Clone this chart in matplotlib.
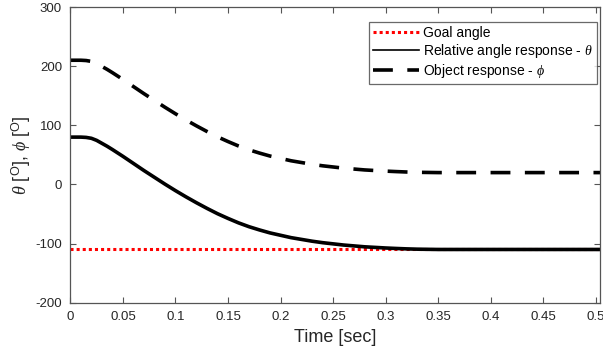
import matplotlib
matplotlib.use("Agg")
import matplotlib.pyplot as plt

t = [0.0, 0.005, 0.01, 0.015, 0.02, 0.025, 0.03, 0.035, 0.04, 0.05, 0.06, 0.07, 0.08,
     0.09, 0.10, 0.11, 0.12, 0.13, 0.14, 0.15, 0.16, 0.17, 0.18, 0.19, 0.20, 0.21,
     0.22, 0.23, 0.24, 0.25, 0.26, 0.27, 0.28, 0.29, 0.30, 0.31, 0.32, 0.33, 0.35, 0.51]
theta = [80, 80, 80, 79.5, 78, 74.5, 69.5, 64.5, 59, 47.5, 35.5, 23.5, 12,
         0.5, -10.5, -21, -31, -40.5, -49.5, -57.5, -65, -71.5, -77, -82, -86, -90,
         -93, -96, -98.5, -100.5, -102.5, -104, -105.5, -106.5, -107.5, -108.3, -109, -109.5, -110, -110]
phi = [210, 210, 210, 209.5, 208, 204.5, 199.5, 194.5, 189, 177.5, 165.5, 153.5, 142,
       130.5, 119.5, 109, 99, 89.5, 80.5, 72.5, 65, 58.5, 53, 48, 44, 40,
       37, 34, 31.5, 29.5, 27.5, 26, 24.5, 23.5, 22.5, 21.7, 21, 20.5, 20, 20]
goal_t = [0.0, 0.51]
goal = [-110, -110]

xticks = [0, 0.05, 0.1, 0.15, 0.2, 0.25, 0.3, 0.35, 0.4, 0.45, 0.5]
xticklabels = ["0", "0.05", "0.1", "0.15", "0.2", "0.25", "0.3", "0.35", "0.4", "0.45", "0.5"]
yticks = [-200, -100, 0, 100, 200, 300]

plt.rcParams['font.family'] = ['Liberation Sans', 'DejaVu Sans']
plt.rcParams['mathtext.fontset'] = 'custom'
plt.rcParams['mathtext.rm'] = 'Liberation Sans'
plt.rcParams['mathtext.it'] = 'Liberation Serif:italic'
plt.rcParams['axes.unicode_minus'] = False

fig = plt.figure(figsize=(6.03, 3.58), dpi=100)
ax = fig.add_axes([0.1167, 0.1545, 0.8783, 0.8259])

ax.plot(goal_t, goal, color='red', linestyle=(0, (1, 1)), linewidth=2.2, label='Goal angle')
ax.plot(t, theta, color='black', linewidth=2.6, solid_joinstyle='round',
        label=r'Relative angle response - $\theta$')
ax.plot(t, phi, color='black', linewidth=2.6, linestyle=(0, (5.5, 4)),
        label=r'Object response - $\phi$')

ax.set_xlim(0, 0.504)
ax.set_ylim(-200, 300)
ax.set_xticks(xticks)
ax.set_xticklabels(xticklabels)
ax.set_yticks(yticks)
ax.tick_params(direction='in', top=True, right=True, length=4, width=0.8,
               labelsize=9.5, colors='#555555', labelcolor='#262626', pad=6)
for s in ax.spines.values():
    s.set_color('#555555')
    s.set_linewidth(0.9)

ax.set_xlabel('Time [sec]', fontsize=13, color='#262626', labelpad=4)
ax.set_ylabel(r'$\theta$ [$^{\rm O}$], $\phi$ [$^{\rm O}$]', fontsize=13, color='#262626', labelpad=2)

leg = ax.legend(loc='upper right', bbox_to_anchor=(0.994, 0.95), borderaxespad=0,
                fontsize=10, frameon=True, fancybox=False, edgecolor='#444444',
                handlelength=3.3, handletextpad=0.3, labelspacing=0.15,
                borderpad=0.3)
leg.get_frame().set_linewidth(0.9)
lines = leg.get_lines()
lines[1].set_linewidth(1.2)

fig.savefig('out.png', dpi=100)
